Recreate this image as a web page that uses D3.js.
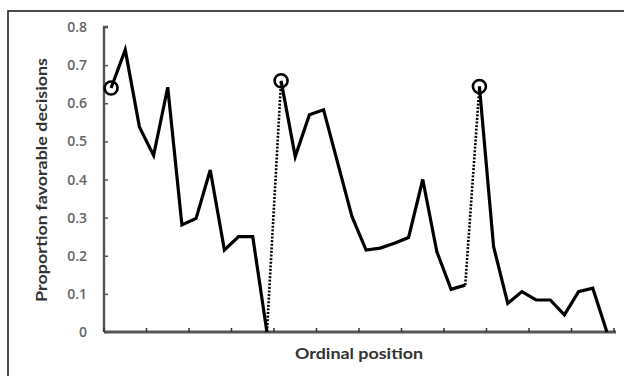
<!DOCTYPE html>
<html><head><meta charset="utf-8">
<script src="https://cdn.jsdelivr.net/npm/d3@7"></script>
<style>body{margin:0;background:#fff}svg{display:block}</style>
</head><body>
<script>
// Data
const positions = d3.range(1, 37);
const session1 = [0.64, 0.74, 0.538, 0.463, 0.642, 0.281, 0.298, 0.425, 0.215, 0.25, 0.25, 0.0];
const session2 = [0.659, 0.46, 0.57, 0.583, 0.443, 0.303, 0.215, 0.22, 0.233, 0.248, 0.40, 0.21, 0.112, 0.123];
const session3 = [0.644, 0.224, 0.075, 0.106, 0.084, 0.084, 0.045, 0.106, 0.115, 0.0];
const yTicks = [0, 0.1, 0.2, 0.3, 0.4, 0.5, 0.6, 0.7, 0.8];
const yTickLabels = ["0", "0.1", "0.2", "0.3", "0.4", "0.5", "0.6", "0.7", "0.8"];
const xTitle = "Ordinal position";
const yTitle = "Proportion favorable decisions";

const W = 624, H = 376;
const svg = d3.select("body").append("svg").attr("width", W).attr("height", H);

// frame
svg.append("rect").attr("x", 8).attr("y", 11).attr("width", 640).attr("height", 400)
  .attr("fill", "none").attr("stroke", "#222").attr("stroke-width", 1.6);

const x0 = 104, x1 = 614, yTop = 27, yBot = 332;
const x = d3.scaleBand().domain(positions).range([x0, x1]).padding(0);
const y = d3.scaleLinear().domain([0, 0.8]).range([yBot, yTop]);
const cx = d => x(d) + x.bandwidth() / 2;

const s1 = session1.map((v, i) => ({p: positions[i], v}));
const s2 = session2.map((v, i) => ({p: positions[i + 12], v}));
const s3 = session3.map((v, i) => ({p: positions[i + 26], v}));

// y axis
const yAxis = d3.axisRight(y).tickValues(yTicks).tickSize(4).tickFormat("");
const ga = svg.append("g").attr("transform", `translate(${x0},0)`).call(yAxis);
ga.select(".domain").attr("stroke", "#555").attr("stroke-width", 2.4).attr("d", `M4,${yTop}H0V${yBot}`);
ga.selectAll(".tick line").attr("stroke", "#555").attr("stroke-width", 1.5);
svg.append("g").selectAll("text").data(yTicks).join("text")
  .attr("x", 87).attr("y", d => y(d) + 5).attr("text-anchor", "end")
  .attr("font-family", "'Open Sans', sans-serif").attr("font-size", 14).attr("font-weight", 600)
  .attr("fill", "#666").text((d, i) => yTickLabels[i]);

// x axis
const xTickVals = positions.filter((d, i) => i % 3 === 0);
const xa = svg.append("g").attr("transform", `translate(0,${yBot})`)
  .call(d3.axisTop(x).tickValues(xTickVals).tickSize(4).tickFormat(""));
xa.selectAll(".tick").attr("transform", d => `translate(${x(d)},0)`);
xa.select(".domain").attr("stroke", "#555").attr("stroke-width", 2.8).attr("d", `M${x0},0H${x1 + 2}`);
xa.selectAll(".tick line").attr("stroke", "#333").attr("stroke-width", 1.5);
xa.append("line").attr("x1", x1).attr("x2", x1).attr("y1", 0).attr("y2", -4).attr("stroke", "#333").attr("stroke-width", 1.5);

// titles
svg.append("text").attr("x", 359).attr("y", 359).attr("text-anchor", "middle")
  .attr("font-family", "Lato, sans-serif").attr("font-size", 16).attr("font-weight", 700)
  .attr("fill", "#333").attr("textLength", 128).attr("lengthAdjust", "spacingAndGlyphs").text(xTitle);
svg.append("text").attr("transform", "translate(47,180) rotate(-90)").attr("text-anchor", "middle")
  .attr("font-family", "Lato, sans-serif").attr("font-size", 16).attr("font-weight", 700)
  .attr("fill", "#333").attr("textLength", 244).attr("lengthAdjust", "spacingAndGlyphs").text(yTitle);

// lines
const line = d3.line().x(d => cx(d.p)).y(d => y(d.v));
[s1, s2, s3].forEach(s => {
  svg.append("path").datum(s).attr("d", line).attr("fill", "none")
    .attr("stroke", "#000").attr("stroke-width", 3.2).attr("stroke-linejoin", "miter");
});
// dotted connectors
[[s1[s1.length - 1], s2[0]], [s2[s2.length - 1], s3[0]]].forEach(seg => {
  svg.append("path").datum(seg).attr("d", line).attr("fill", "none")
    .attr("stroke", "#000").attr("stroke-width", 2.6).attr("stroke-dasharray", "2,1.6");
});
// circles at session starts
[s1[0], s2[0], s3[0]].forEach(d => {
  svg.append("circle").attr("cx", cx(d.p)).attr("cy", y(d.v)).attr("r", 6.5)
    .attr("fill", "none").attr("stroke", "#000").attr("stroke-width", 2.6);
});
</script>
</body></html>
